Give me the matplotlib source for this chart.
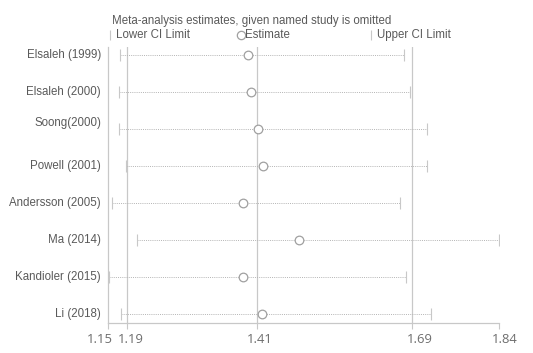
import matplotlib.pyplot as plt
from matplotlib.lines import Line2D
import matplotlib.transforms as mtransforms

# Leave-one-out sensitivity analysis values
studies = ["Elsaleh (1999)", "Elsaleh (2000)", "Soong(2000)", "Powell (2001)",
           "Andersson (2005)", "Ma (2014)", "Kandioler (2015)", "Li (2018)"]
estimate = [1.397, 1.401, 1.414, 1.423, 1.388, 1.486, 1.388, 1.421]
lower_ci = [1.171, 1.168, 1.169, 1.182, 1.157, 1.200, 1.152, 1.172]
upper_ci = [1.671, 1.682, 1.713, 1.713, 1.665, 1.840, 1.675, 1.719]

# overall lower / estimate / upper, plus axis ends
ref_lines = [1.183, 1.412, 1.686]
tick_vals = [1.15, 1.183, 1.412, 1.686, 1.84]
tick_labels = ["1.15", "1.19", "1.41", "1.69", "1.84"]

text_col = "#5a5a5a"
line_col = "#c8c8c8"
dot_col = "#b4b4b4"
circ_col = "#a0a0a0"

plt.rcParams['font.family'] = ['Liberation Sans', 'DejaVu Sans']

fig = plt.figure(figsize=(5.33, 3.53), dpi=100)
ax = fig.add_axes([0.2032, 0.085, 0.7336, 0.782])

ys = list(range(len(studies)))

for x in ref_lines:
    ax.axvline(x, color=line_col, lw=0.9, zorder=1)

for y, lo, hi in zip(ys, lower_ci, upper_ci):
    ax.plot([lo, hi], [y, y], ls=(0, (1, 1.2)), color=dot_col, lw=0.7, zorder=2)
ax.plot(lower_ci, ys, ls="none", marker="|", ms=8, mew=0.8, color=line_col, zorder=3)
ax.plot(upper_ci, ys, ls="none", marker="|", ms=8, mew=0.8, color=line_col, zorder=3)
ax.plot(estimate, ys, ls="none", marker="o", ms=6.2, mfc="white", mec=circ_col,
        mew=0.9, zorder=4)

ax.set_xlim(1.15, 1.84)
ax.set_ylim(len(studies) - 1 + 0.243, -0.216)

ax.set_yticks([])
# study labels, Soong's label sits a little higher in the original
label_shift = [0, 0, 6, 0, 0, 0, 0, 0]
for y, name, dy in zip(ys, studies, label_shift):
    off = mtransforms.offset_copy(ax.transData, fig=fig, x=0, y=dy, units="dots")
    tr = mtransforms.blended_transform_factory(fig.transFigure, off)
    ax.text(101 / 533, y, name, transform=tr, ha="right", va="center",
            fontsize=8.3, color=text_col, clip_on=False)

ax.set_xticks(tick_vals)
ax.set_xticklabels(tick_labels, family=["Open Sans", "DejaVu Sans"], fontsize=9.4,
                   color="#6e6e6e")
ax.tick_params(axis="x", length=4, width=0.8, color=line_col, pad=3)
# nudge tick labels sideways the way the original lays them out
label_dx = [-8, 4, 3, 8, 5]
for lab, dx in zip(ax.get_xticklabels(), label_dx):
    lab.set_transform(lab.get_transform() +
                      mtransforms.ScaledTranslation(dx / 100, 0, fig.dpi_scale_trans))

for side in ["top", "right"]:
    ax.spines[side].set_visible(False)
for side in ["left", "bottom"]:
    ax.spines[side].set_color(line_col)
    ax.spines[side].set_linewidth(0.9)

# legend drawn by hand at the top
fig.text(112 / 533, 1 - 21 / 353, "Meta-analysis estimates, given named study is omitted",
         ha="left", va="center", fontsize=8.3, color=text_col)
leg_y = 1 - 35 / 353
fig.add_artist(Line2D([110 / 533], [leg_y], marker="|", ms=7, mew=0.8, color=line_col,
                      transform=fig.transFigure))
fig.text(116 / 533, leg_y, "Lower CI Limit", ha="left", va="center", fontsize=8.3, color=text_col)
fig.add_artist(Line2D([240.5 / 533], [leg_y], marker="o", ms=6, mfc="white", mec=circ_col,
                      mew=0.9, transform=fig.transFigure))
fig.text(245 / 533, leg_y, "Estimate", ha="left", va="center", fontsize=8.3, color=text_col)
fig.add_artist(Line2D([371 / 533], [leg_y], marker="|", ms=7, mew=0.8, color=line_col,
                      transform=fig.transFigure))
fig.text(377 / 533, leg_y, "Upper CI Limit", ha="left", va="center", fontsize=8.3, color=text_col)

fig.savefig("out.png", dpi=100)
